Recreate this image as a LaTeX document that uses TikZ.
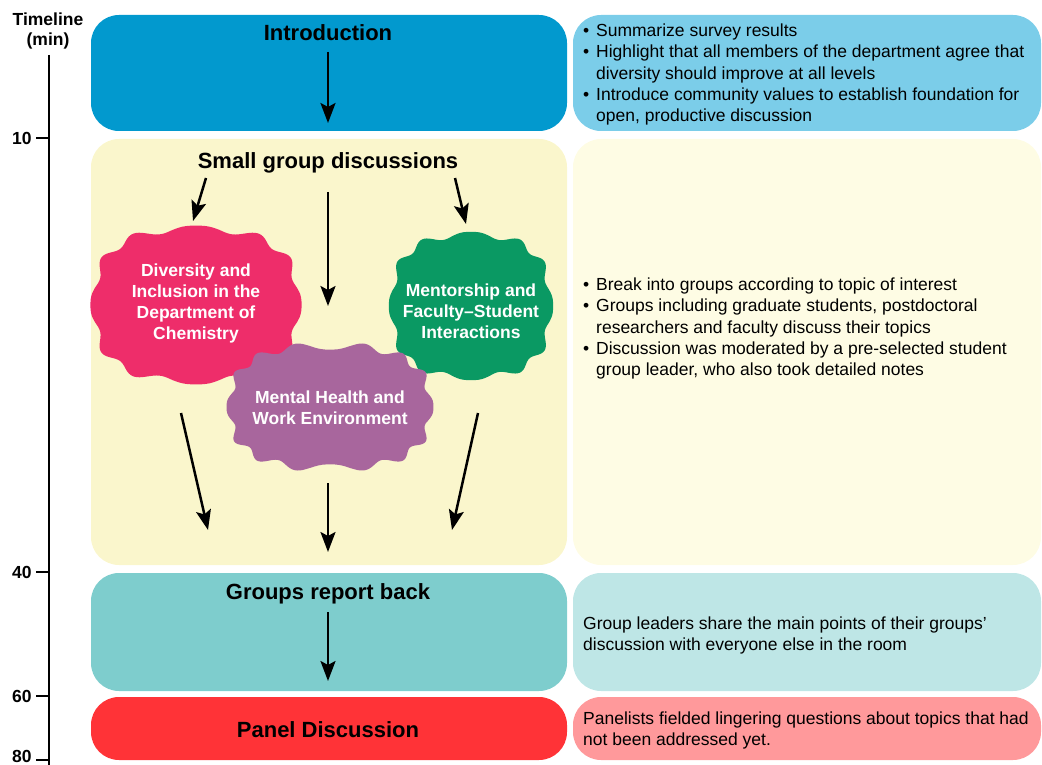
\documentclass[tikz,border=0pt]{standalone}
\usepackage{fontspec}
\setmainfont{Liberation Sans}
\usetikzlibrary{arrows.meta}
\definecolor{introL}{HTML}{0299CE}
\definecolor{introR}{HTML}{7BCDE9}
\definecolor{smallL}{HTML}{FAF6CC}
\definecolor{smallR}{HTML}{FEFCE4}
\definecolor{reportL}{HTML}{7ECDCD}
\definecolor{reportR}{HTML}{BEE6E6}
\definecolor{panelL}{HTML}{FF3337}
\definecolor{panelR}{HTML}{FF999B}
\definecolor{blobpink}{HTML}{EE2D6A}
\definecolor{blobgreen}{HTML}{0A9963}
\definecolor{blobpurple}{HTML}{A8669D}
\newcommand\bul{\makebox[13pt][l]{\textbullet}}
\newcommand\ind{\hspace*{13pt}}
\begin{document}
\begin{tikzpicture}[x=1pt,y=-1pt,
  panel/.style={rounded corners=28pt, inner sep=0pt, draw=none},
  title/.style={font=\fontsize{22}{26}\selectfont\bfseries, anchor=base, inner sep=0pt},
  arr/.style={line width=2.5pt, -{Stealth[length=20pt,width=15pt,inset=4pt]}},
  desc/.style={font=\fontsize{17.5}{21.4}\selectfont, align=left, anchor=north west, inner sep=0pt},
  blobtext/.style={text=white, font=\fontsize{17.5}{21}\selectfont\bfseries, align=center, inner sep=0pt},
  axislabel/.style={font=\fontsize{17.5}{21}\selectfont\bfseries, inner sep=0pt}]
\useasboundingbox (0,0) rectangle (1042,765);

% timeline
\node[axislabel, align=center] (tl) at (48,31) {Timeline\\[-1pt](min)};
\coordinate (axtop) at (49,55);
\coordinate (axbot) at (49,765);
\draw[line width=2.6pt] (axtop) -- (axbot);
\foreach \yy/\lab/\dy in {138/10/0, 572/40/0, 696/60/0, 760/80/4}{
  \coordinate (t\lab) at (49,\yy);
  \draw[line width=2.6pt] (t\lab) -- ++(-13,0) node[axislabel, anchor=east, xshift=-3pt, yshift=\dy pt] (l\lab) {\lab};
}

% left boxes
\node[panel, fill=introL, minimum width=476pt, minimum height=116pt] (introbox) at (329,73) {};
\node[panel, fill=smallL, minimum width=476pt, minimum height=426pt] (smallbox) at (329,352) {};
\node[panel, fill=reportL, minimum width=476pt, minimum height=118pt] (reportbox) at (329,632) {};
\node[panel, fill=panelL, minimum width=476pt, minimum height=63pt] (panelbox) at (329,728.5) {};

% right boxes
\node[panel, fill=introR, minimum width=468pt, minimum height=116pt] (introdesc) at (807,73) {};
\node[panel, fill=smallR, minimum width=468pt, minimum height=426pt] (smalldesc) at (807,352) {};
\node[panel, fill=reportR, minimum width=468pt, minimum height=118pt] (reportdesc) at (807,632) {};
\node[panel, fill=panelR, minimum width=468pt, minimum height=63pt] (paneldesc) at (807,728.5) {};

% titles
\node[title] (introT) at (328,41) {Introduction};
\node[title] (smallT) at (328,168) {Small group discussions};
\node[title] (reportT) at (328,599) {Groups report back};
\node[title] (panelT) at (328,737) {Panel Discussion};

% blobs
\fill[blobpink] plot[domain=0.5:360.5, samples=241, variable=\t]
  ({196 + 102*(1+0.035*cos(12*\t))*sign(cos(\t))*pow(abs(cos(\t)),0.75)},
   {305 + 76*(1+0.045*cos(12*\t))*sign(sin(\t))*pow(abs(sin(\t)),0.75)}) -- cycle;
\fill[blobgreen] plot[domain=0.5:360.5, samples=241, variable=\t]
  ({471 + 79*(1+0.04*cos(12*\t))*sign(cos(\t))*pow(abs(cos(\t)),0.75)},
   {306 + 71*(1+0.045*cos(12*\t))*sign(sin(\t))*pow(abs(sin(\t)),0.75)}) -- cycle;
\fill[blobpurple] plot[domain=0.5:360.5, samples=241, variable=\t]
  ({330 + 100*(1+0.035*cos(14*\t))*sign(cos(\t))*pow(abs(cos(\t)),0.75)},
   {407 + 61*(1+0.06*cos(14*\t))*sign(sin(\t))*pow(abs(sin(\t)),0.75)}) -- cycle;

\node[blobtext] (div) at (196,303) {Diversity and\\Inclusion in the\\Department of\\Chemistry};
\node[blobtext] (men) at (471,311) {Mentorship and\\Faculty–Student\\Interactions};
\node[blobtext] (mh) at (330,408) {Mental Health and\\Work Environment};

% arrows
\coordinate (a1s) at (328,52);  \coordinate (a1e) at (328,123);
\coordinate (a2s) at (206,178); \coordinate (a2e) at (193,221);
\coordinate (a3s) at (328,192); \coordinate (a3e) at (328,306);
\coordinate (a4s) at (455,178); \coordinate (a4e) at (466,224);
\coordinate (a5s) at (181,413); \coordinate (a5e) at (208,530);
\coordinate (a6s) at (328,483); \coordinate (a6e) at (328,552);
\coordinate (a7s) at (478,413); \coordinate (a7e) at (452,530);
\coordinate (a8s) at (328,612); \coordinate (a8e) at (328,681);
\foreach \i in {1,...,8}{ \draw[arr] (a\i s) -- (a\i e); }

% descriptions
\node[desc] (d1) at (583,23.5) {\bul Summarize survey results\\
\bul Highlight that all members of the department agree that\\
\ind diversity should improve at all levels\\
\bul Introduce community values to establish foundation for\\
\ind open, productive discussion};
\node[desc] (d2) at (583,277.5) {\bul Break into groups according to topic of interest\\
\bul Groups including graduate students, postdoctoral\\
\ind researchers and faculty discuss their topics\\
\bul Discussion was moderated by a pre-selected student\\
\ind group leader, who also took detailed notes};
\node[desc] (d3) at (583,616.5) {Group leaders share the main points of their groups’\\
discussion with everyone else in the room};
\node[desc] (d4) at (583,711.5) {Panelists fielded lingering questions about topics that had\\
not been addressed yet.};
\end{tikzpicture}
\end{document}
